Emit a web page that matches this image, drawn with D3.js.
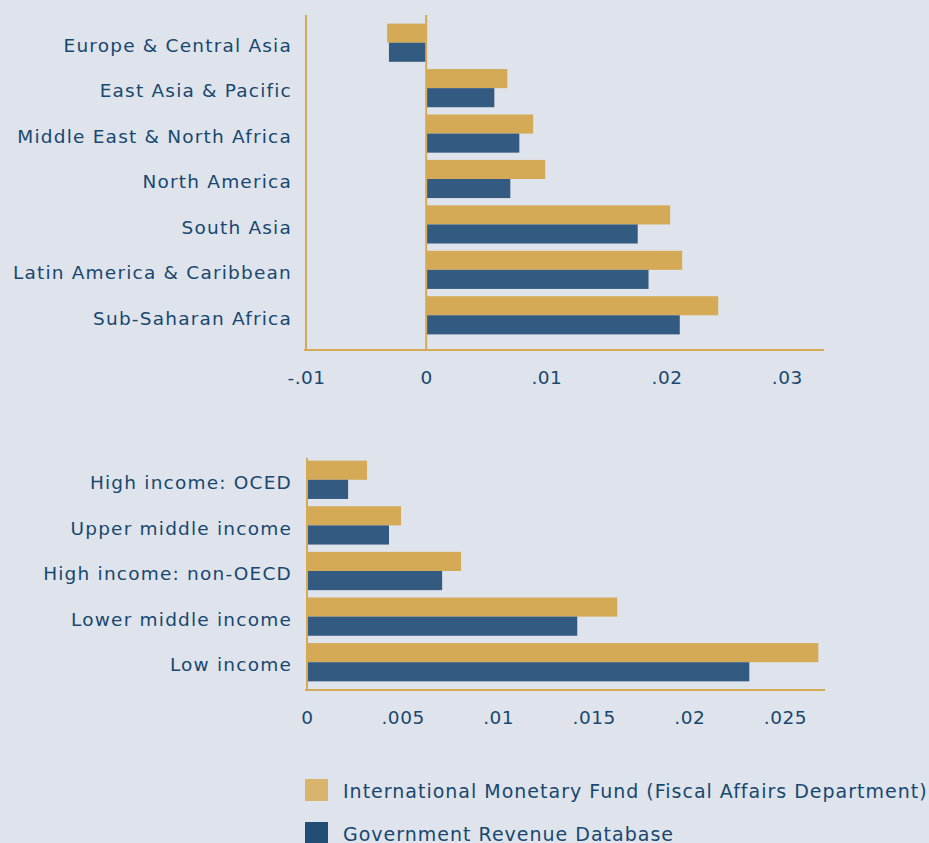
<!DOCTYPE html>
<meta charset="utf-8">
<style>
body { margin: 0; background: #dfe3ec; font-family: "DejaVu Sans", sans-serif; }
svg { display: block; }
.lbl { font-size: 18.5px; fill: #18486f; letter-spacing: 1.2px; }
.leg { font-size: 19px; fill: #18486f; letter-spacing: 1px; }
.axis .tick text { font-size: 18.5px; fill: #18486f; letter-spacing: 0.5px; }
.axis path, .axis line { stroke: #d4aa57; }
</style>
<body>
<div id="chart"></div>
<script src="https://d3js.org/d3.v7.min.js"></script>
<script>
// regions (top panel)
var regions = ["Europe & Central Asia", "East Asia & Pacific", "Middle East & North Africa",
  "North America", "South Asia", "Latin America & Caribbean", "Sub-Saharan Africa"];
var regionIMF = [-0.00325, 0.00675, 0.0089, 0.0099, 0.0203, 0.0213, 0.0243];
var regionGRD = [-0.0031, 0.00567, 0.00775, 0.0070, 0.0176, 0.0185, 0.0211];
var regionTicks = [-0.01, 0, 0.01, 0.02, 0.03];

// income groups (bottom panel)
var incomes = ["High income: OCED", "Upper middle income", "High income: non-OECD",
  "Lower middle income", "Low income"];
var incomeIMF = [0.00314, 0.00492, 0.00806, 0.01623, 0.02675];
var incomeGRD = [0.00215, 0.00429, 0.00707, 0.01414, 0.02314];
var incomeTicks = [0, 0.005, 0.01, 0.015, 0.02, 0.025];

var series = ["International Monetary Fund (Fiscal Affairs Department)", "Government Revenue Database"];
var colors = ["#d4aa57", "#335a80"];
var legendColors = ["#d9b46c", "#224d75"];

var width = 929, height = 843;
var svg = d3.select("#chart").append("svg")
  .attr("width", width).attr("height", height);

function fmt(d) {
  if (d === 0) return "0";
  return String(d).replace("0.", ".");
}

function panel(cats, imf, grd, ticks, xDomain, xRange, yRange, axisTop, axisY, zeroLine) {
  var x = d3.scaleLinear().domain(xDomain).range(xRange);
  var y = d3.scaleBand().domain(cats).range(yRange).paddingInner(0.16).paddingOuter(0.08);
  var g = svg.append("g");

  var rows = cats.map(function(c, i) { return {cat: c, v: [imf[i], grd[i]]}; });
  var bh = y.bandwidth() / 2;

  rows.forEach(function(r) {
    r.v.forEach(function(v, j) {
      g.append("rect")
        .attr("x", Math.min(x(0), x(v)))
        .attr("y", y(r.cat) + j * bh)
        .attr("width", Math.abs(x(v) - x(0)))
        .attr("height", bh)
        .attr("fill", colors[j]);
    });
  });

  // category labels
  g.selectAll(".lbl").data(cats).enter().append("text")
    .attr("class", "lbl")
    .attr("x", 292)
    .attr("y", function(d) { return y(d) + y.bandwidth() / 2; })
    .attr("dy", "0.5em")
    .attr("text-anchor", "end")
    .text(function(d) { return d; });

  // left axis line
  g.append("line")
    .attr("x1", xRange[0]).attr("x2", xRange[0])
    .attr("y1", axisTop).attr("y2", axisY)
    .attr("stroke", "#d4aa57").attr("stroke-width", 2);

  if (zeroLine) {
    g.append("line")
      .attr("x1", x(0)).attr("x2", x(0))
      .attr("y1", axisTop).attr("y2", axisY)
      .attr("stroke", "#d4aa57").attr("stroke-width", 2);
  }

  var ax = g.append("g")
    .attr("class", "axis")
    .attr("transform", "translate(0," + axisY + ")")
    .call(d3.axisBottom(x).tickValues(ticks).tickSize(0).tickPadding(21).tickFormat(fmt))
    .attr("font-family", null).attr("font-size", null);
  ax.select(".domain").attr("stroke-width", 2).attr("d", "M" + (xRange[0] - 2) + ",0H" + xRange[1]);
}

panel(regions, regionIMF, regionGRD, regionTicks, [-0.01, 0.0331], [306, 824], [20, 338], 15, 350, true);
panel(incomes, incomeIMF, incomeGRD, incomeTicks, [0, 0.0271], [307, 825], [457, 685], 458, 690, false);

// legend
var leg = svg.append("g");
series.forEach(function(s, i) {
  leg.append("rect")
    .attr("x", 305).attr("y", 779 + i * 43)
    .attr("width", 23).attr("height", 22)
    .attr("fill", legendColors[i]);
  leg.append("text")
    .attr("class", "leg")
    .attr("x", 343).attr("y", 790 + i * 43)
    .attr("dy", "0.4em")
    .text(s);
});
</script>
</body>
